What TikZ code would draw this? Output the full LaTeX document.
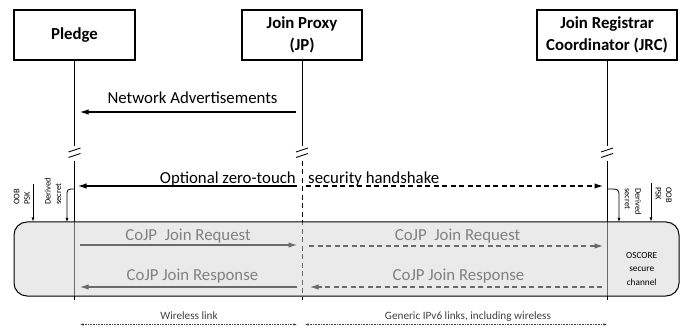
\documentclass[tikz,border=0pt]{standalone}
\usepackage{fontspec}
\setmainfont{Carlito}
\usetikzlibrary{arrows.meta}
\definecolor{boxfill}{HTML}{D6D6D6}
\definecolor{msggray}{HTML}{6A6A6A}
\definecolor{txtgray}{HTML}{808080}
\definecolor{smallgray}{HTML}{404040}
\begin{document}
\begin{tikzpicture}[x=1pt,y=-1pt,
 actor/.style={draw,line width=1.5pt,inner sep=0pt,minimum height=50pt,align=center,font=\bfseries\fontsize{16.8}{21.7}\selectfont},
 life/.style={line width=0.9pt},
 bigtxt/.style={font=\fontsize{16.8}{20}\selectfont,inner sep=0pt},
 msg/.style={line width=1.1pt,-{Latex[length=8.5pt,width=5.5pt]}},
 gmsg/.style={msg,draw=msggray,color=msggray},
 brk/.style={line width=0.9pt},
 dsh/.style={dash pattern=on 5pt off 3.5pt},
 tinytxt/.style={font=\fontsize{8.5}{10.5}\selectfont,align=left,inner sep=0pt},
 smalltxt/.style={font=\fontsize{11.2}{13}\selectfont,inner sep=0pt,text=smallgray},
 smallarrow/.style={line width=0.8pt,-{Latex[length=4pt,width=3pt]}},
 spanarrow/.style={densely dotted,line width=0.6pt,draw=smallgray,{Latex[length=3.5pt,width=2.5pt]}-{Latex[length=3.5pt,width=2.5pt]}}
]
\useasboundingbox (0,0) rectangle (683,331);

% actors
\node[actor,minimum width=121pt] (pledge) at (74.5,35) {Pledge};
\node[actor,minimum width=120pt] (jp) at (302,35) {Join Proxy\\(JP)};
\node[actor,minimum width=140pt] (jrc) at (607,35) {Join Registrar\\Coordinator (JRC)};

% lifelines
\coordinate (pA) at (74.5,146); \coordinate (pB) at (74.5,161); \coordinate (pE) at (74.5,300);
\coordinate (jA) at (302,146);  \coordinate (jB) at (302,161);  \coordinate (jE) at (302,300);
\coordinate (rA) at (607,146);  \coordinate (rB) at (607,161);  \coordinate (rE) at (607,300);
\draw[life] (pledge.south) -- (pA); \draw[life] (pB) -- (pE);
\draw[life] (jp.south) -- (jA);     \draw[life,dsh] (jB) -- (jE);
\draw[life] (jrc.south) -- (rA);    \draw[life] (rB) -- (rE);

% break marks
\foreach \x in {74.5,302,607} {
  \draw[brk] (\x-6,152) -- (\x+6,148);
  \draw[brk] (\x-6,157.5) -- (\x+6,153.5);
}

% secure channel box
\node[draw,line width=1pt,rounded corners=13pt,fill=boxfill,fill opacity=0.5,
      minimum width=665pt,minimum height=74pt,inner sep=0pt] (chan) at (346.5,259) {};

% network advertisements
\coordinate (naS) at (296,112); \coordinate (naE) at (80,112);
\draw[msg] (naS) -- (naE);
\node[bigtxt,anchor=base] (naL) at (192.5,104) {Network Advertisements};

% handshake
\coordinate (hsM1) at (297,186); \coordinate (hsP) at (78,186);
\coordinate (hsM2) at (306,186); \coordinate (hsR) at (603,186);
\draw[msg] (hsM1) -- (hsP);
\draw[msg,dsh] (hsM2) -- (hsR);
\node[bigtxt,anchor=base east] (hsL1) at (296,183.5) {Optional zero-touch};
\node[bigtxt,anchor=base west] (hsL2) at (308,183.5) {security handshake};

% key inputs
\node[tinytxt,rotate=90] (oobL) at (22,197) {OOB\\PSK};
\node[tinytxt,rotate=90] (derL) at (53,191.5) {Derived\\secret};
\node[tinytxt,rotate=-90] (derR) at (633,201.5) {Derived\\secret};
\node[tinytxt,rotate=-90] (oobR) at (663.5,195) {OOB\\PSK};
\coordinate (oobLs) at (33,184);
\coordinate (oobRs) at (651,183);
\draw[smallarrow] (oobLs) -- (oobLs |- chan.north);
\draw[smallarrow] (oobRs) -- (oobRs |- chan.north);
\coordinate (dLs) at (74.5,189); \coordinate (dLe) at (67,222);
\coordinate (dRs) at (607,189);  \coordinate (dRe) at (619,222);
\draw[smallarrow] (dLs) .. controls (67,189) .. (67,197) -- (dLe);
\draw[smallarrow] (dRs) .. controls (619,189) .. (619,197) -- (dRe);

% CoJP messages
\coordinate (rq1) at (80,245);  \coordinate (rq2) at (297,245);
\coordinate (rq3) at (309,246); \coordinate (rq4) at (603,246);
\draw[gmsg] (rq1) -- (rq2);
\draw[gmsg,dsh] (rq3) -- (rq4);
\coordinate (rs1) at (602,287); \coordinate (rs2) at (310,287);
\coordinate (rs3) at (297,287); \coordinate (rs4) at (80,287);
\draw[gmsg,dsh] (rs1) -- (rs2);
\draw[gmsg] (rs3) -- (rs4);
\node[bigtxt,anchor=base,text=txtgray] (rqL1) at (188,240.7) {CoJP\ \ Join Request};
\node[bigtxt,anchor=base,text=txtgray] (rqL2) at (457.6,240.7) {CoJP\ \ Join Request};
\node[bigtxt,anchor=base,text=txtgray] (rsL1) at (192.5,280) {CoJP Join Response};
\node[bigtxt,anchor=base,text=txtgray] (rsL2) at (458.5,280) {CoJP Join Response};

\node[font=\fontsize{9.3}{13.5}\selectfont,align=center,inner sep=0pt] (osc) at (641.7,269) {OSCORE\\secure\\channel};

% link spans
\coordinate (w1) at (80,324.5);  \coordinate (w2) at (297,324.5);
\coordinate (g1) at (305,324.5); \coordinate (g2) at (607,324.5);
\draw[spanarrow] (w1) -- (w2);
\draw[spanarrow] (g1) -- (g2);
\node[smalltxt,anchor=base] (wl) at (189,319.5) {Wireless link};
\node[smalltxt,anchor=base] (gl) at (468,319.5) {Generic IPv6 links, including wireless};
\end{tikzpicture}
\end{document}
